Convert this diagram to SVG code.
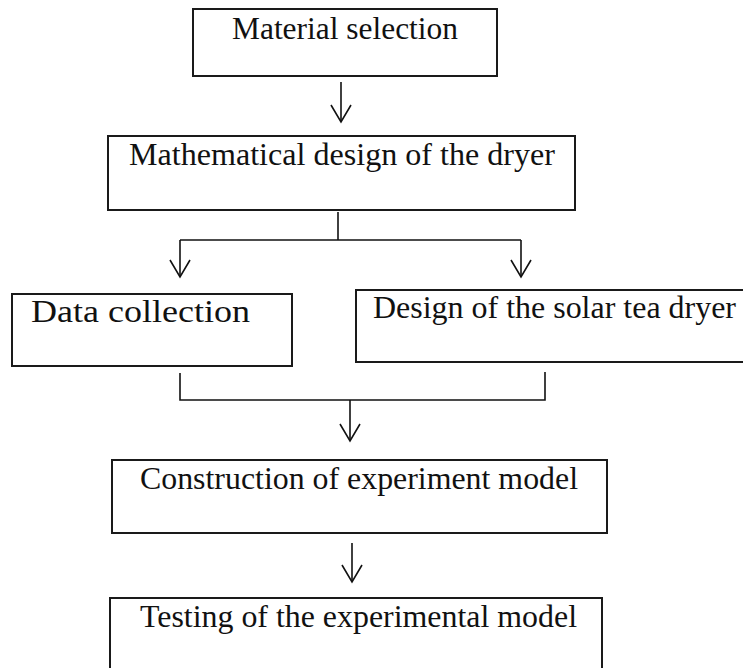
<svg xmlns="http://www.w3.org/2000/svg" width="743" height="668" viewBox="0 0 743 668">
<defs>
<style>
.box{fill:#fff;stroke:#1a1a1a;stroke-width:2}
.lbl{font-family:"Liberation Serif","Times New Roman",serif;font-size:31px;fill:#111}
.con{fill:none;stroke:#111;stroke-width:1.6}
</style>
<marker id="ah" markerUnits="userSpaceOnUse" markerWidth="30" markerHeight="30" viewBox="-20 -15 25 30" refX="0" refY="0" orient="auto">
<path d="M-17,-10 L0,0 L-17,10" fill="none" stroke="#111" stroke-width="1.6"/>
</marker>
</defs>
<rect width="743" height="668" fill="#fff"/>
<g id="connectors">
<line class="con" x1="341" y1="82" x2="341" y2="122" marker-end="url(#ah)"/>
<line class="con" x1="338" y1="212" x2="338" y2="240"/>
<line class="con" x1="180" y1="240" x2="521" y2="240"/>
<line class="con" x1="180" y1="240" x2="180" y2="277" marker-end="url(#ah)"/>
<line class="con" x1="521" y1="240" x2="521" y2="277" marker-end="url(#ah)"/>
<polyline class="con" points="180,373 180,400 545,400 545,372"/>
<line class="con" x1="350" y1="400" x2="350" y2="441" marker-end="url(#ah)"/>
<line class="con" x1="352" y1="543" x2="352" y2="582" marker-end="url(#ah)"/>
</g>
<g id="material">
<rect class="box" x="193" y="9" width="304" height="67"/>
<text class="lbl" x="232" y="39" textLength="226" lengthAdjust="spacingAndGlyphs">Material selection</text>
</g>
<g id="mathematical">
<rect class="box" x="108" y="136" width="467" height="74"/>
<text class="lbl" x="129" y="165" textLength="426" lengthAdjust="spacingAndGlyphs">Mathematical design of the dryer</text>
</g>
<g id="data">
<rect class="box" x="12" y="294" width="280" height="72"/>
<text class="lbl" x="31" y="322" textLength="219" lengthAdjust="spacingAndGlyphs">Data collection</text>
</g>
<g id="design">
<rect class="box" x="356" y="290" width="400" height="72"/>
<text class="lbl" x="373" y="318" textLength="363" lengthAdjust="spacingAndGlyphs">Design of the solar tea dryer</text>
</g>
<g id="construction">
<rect class="box" x="112" y="460" width="495" height="73"/>
<text class="lbl" x="140" y="489" textLength="438" lengthAdjust="spacingAndGlyphs">Construction of experiment model</text>
</g>
<g id="testing">
<rect class="box" x="110" y="598" width="492" height="100"/>
<text class="lbl" x="140" y="627" textLength="437" lengthAdjust="spacingAndGlyphs">Testing of the experimental model</text>
</g>
</svg>
